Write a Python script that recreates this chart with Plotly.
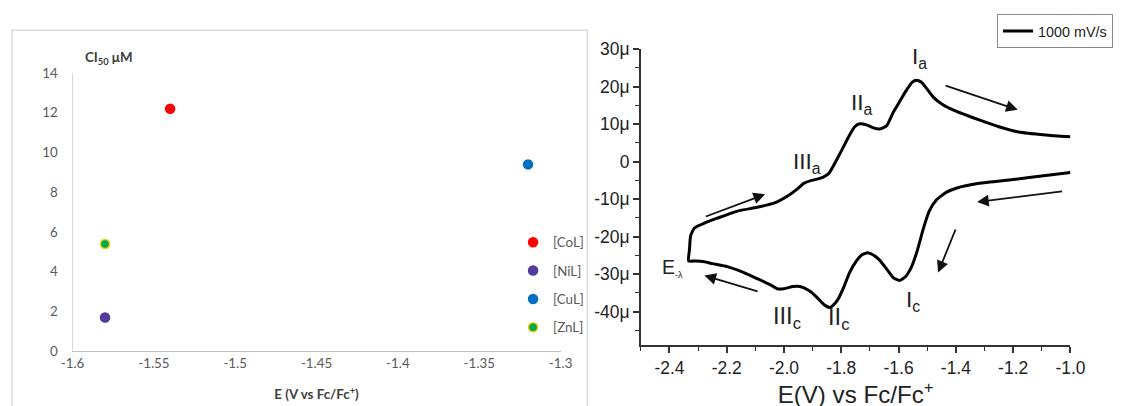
import plotly.graph_objects as go

# The photographed page shows the figure shifted by the 8 px body margin and
# scaled by KX, KY; layout positions below are given in reference-picture pixels.
KX, KY, BODY_M = 1121 / 1137, 406 / 422, 8
W, H = 1129, 414

# ---------------- Left panel data (IC50 vs E) ----------------
complexes = ["[CoL]", "[NiL]", "[CuL]", "[ZnL]"]
e_values = [-1.54, -1.58, -1.32, -1.58]
ic50_values = [12.2, 1.7, 9.4, 5.4]
point_colors = ["#ff0000", "#5a3aa0", "#0070c0", "#00a84f"]
point_lines = ["#ff0000", "#4a3a9a", "#0070c0", "#e8d000"]
left_xticks = [-1.6, -1.55, -1.5, -1.45, -1.4, -1.35, -1.3]
left_xticktext = ["-1.6", "-1.55", "-1.5", "-1.45", "-1.4", "-1.35", "-1.3"]
left_yticks = [0, 2, 4, 6, 8, 10, 12, 14]

# ---------------- Right panel data (cyclic voltammogram) ----------------
cv_potential = [
    -1.000, -1.087, -1.201, -1.319, -1.399, -1.434, -1.469, -1.493, -1.514, -1.535,
    -1.556, -1.576, -1.597, -1.618, -1.642, -1.667, -1.688, -1.708, -1.729, -1.747,
    -1.771, -1.792, -1.812, -1.830, -1.840, -1.861, -1.885, -1.913, -1.944, -1.969,
    -2.000, -2.024, -2.049, -2.094, -2.146, -2.198, -2.250, -2.278, -2.309, -2.333,
    -2.330, -2.326, -2.3125, -2.278, -2.233, -2.163, -2.094, -2.035, -1.990, -1.955,
    -1.931, -1.903, -1.875, -1.844, -1.816, -1.792, -1.771, -1.753, -1.736, -1.712,
    -1.688, -1.667, -1.642, -1.618, -1.597, -1.573, -1.552, -1.538, -1.521, -1.503,
    -1.479, -1.444, -1.410, -1.375, -1.319, -1.250, -1.181, -1.087, -1.000,
]
cv_current = [
    -2.9, -3.7, -4.8, -5.8, -7.1, -8.2, -10.3, -13.2, -18.0, -23.8,
    -28.3, -30.7, -31.7, -31.0, -28.6, -26.2, -24.9, -24.3, -24.9, -26.5,
    -29.6, -33.6, -36.8, -38.4, -38.9, -38.1, -36.2, -34.4, -33.3, -33.3,
    -33.9, -33.9, -32.8, -31.2, -29.4, -28.0, -27.2, -26.7, -26.5, -26.5,
    -23.5, -19.8, -17.7, -16.4, -15.1, -13.2, -12.2, -11.1, -9.3, -7.4,
    -5.8, -5.0, -4.5, -3.2, 0.5, 4.0, 7.1, 9.3, 10.1, 9.8,
    9.0, 8.7, 9.5, 13.2, 15.9, 19.0, 21.2, 21.7, 21.2, 19.6,
    17.2, 15.1, 13.8, 12.7, 11.1, 9.3, 7.9, 7.1, 6.6,
]
cv_name = "1000 mV/s"
right_xticks = [-2.4, -2.2, -2.0, -1.8, -1.6, -1.4, -1.2, -1.0]
right_xticktext = ["-2.4", "-2.2", "-2.0", "-1.8", "-1.6", "-1.4", "-1.2", "-1.0"]
right_yticks = [-40, -30, -20, -10, 0, 10, 20, 30]
right_yticktext = ["-40μ", "-30μ", "-20μ", "-10μ", "0", "10μ", "20μ", "30μ"]

# peak labels: (text, E, I, font size)
peak_labels = [
    ("I<sub>a</sub>", -1.528, 27.5, 22),
    ("II<sub>a</sub>", -1.726, 15.3, 22),
    ("III<sub>a</sub>", -1.920, -0.3, 22),
    ("E<sub><span style='font-size:9px'>-λ</span></sub>", -2.389, -28.4, 19),
    ("III<sub>c</sub>", -1.990, -41.8, 23),
    ("II<sub>c</sub>", -1.809, -42.1, 23),
    ("I<sub>c</sub>", -1.549, -37.3, 22),
]
# scan-direction arrows: (tail E, tail I, head E, head I)
scan_arrows = [
    (-2.278, -14.8, -2.066, -8.7),
    (-2.087, -34.7, -2.278, -30.4),
    (-1.441, 20.4, -1.184, 13.8),
    (-1.024, -7.9, -1.326, -10.8),
    (-1.399, -17.7, -1.462, -29.6),
]

fig = go.Figure()

for name, e, ic, c, lc in zip(complexes, e_values, ic50_values, point_colors, point_lines):
    fig.add_trace(go.Scatter(
        x=[e], y=[ic], mode="markers", name=name,
        marker=dict(size=9, color=c, line=dict(color=lc, width=1.5)),
        xaxis="x", yaxis="y", legend="legend2", legendgroup=name,
    ))

fig.add_trace(go.Scatter(
    x=cv_potential, y=cv_current, mode="lines", name=cv_name,
    line=dict(color="black", width=3, shape="spline", smoothing=0.5),
    xaxis="x2", yaxis="y2", legend="legend",
))


def px(x):
    return (x / KX - BODY_M) / W


def py(y):
    return 1 - (y / KY - BODY_M) / H


SF = 1 / ((KX + KY) / 2)  # font compensation for the picture scaling
left_font = dict(family="Lato, Open Sans, sans-serif", size=13 * SF, color="#595959")
right_font = dict(family="Liberation Sans, Arial, sans-serif", size=17 * SF, color="#222222")

fig.update_layout(
    width=W, height=H, autosize=False,
    margin=dict(l=0, r=0, t=0, b=0),
    paper_bgcolor="white", plot_bgcolor="white",
    xaxis=dict(
        domain=[px(69), px(562)], range=[-1.6, -1.3], anchor="y",
        tickvals=left_xticks, ticktext=left_xticktext,
        showgrid=False, zeroline=False, showline=True, linecolor="#bfbfbf", linewidth=1,
        ticks="", tickfont=left_font,
        title=dict(text="<b>E (V vs Fc/Fc<sup>+</sup>)</b>",
                   font=dict(family="Lato, Open Sans, sans-serif", size=13 * SF, color="#404040"),
                   standoff=19),
    ),
    yaxis=dict(
        domain=[py(351), py(71)], range=[0, 14], anchor="x",
        tickvals=left_yticks, showgrid=False, zeroline=False,
        showline=True, linecolor="#d9d9d9", linewidth=1,
        ticks="", tickfont=left_font, ticklabelstandoff=11,
    ),
    xaxis2=dict(
        domain=[px(643), px(1077)], range=[-2.5, -1.0], anchor="y2",
        tickvals=right_xticks, ticktext=right_xticktext,
        showgrid=False, zeroline=False, showline=True, linecolor="#333333", linewidth=1.5,
        ticks="outside", ticklen=6, tickwidth=1.5, tickcolor="#333333",
        minor=dict(dtick=0.1, ticks="outside", ticklen=4, tickwidth=1.2, tickcolor="#333333"),
        tickfont=right_font,
        title=dict(text="E(V) vs Fc/Fc<sup>+</sup>",
                   font=dict(family="Liberation Sans, Arial, sans-serif", size=23.5 * SF,
                             color="#222222"),
                   standoff=0),
    ),
    yaxis2=dict(
        domain=[py(345), py(47)], range=[-49, 30], anchor="x2",
        tickvals=right_yticks, ticktext=right_yticktext,
        showgrid=False, zeroline=False, showline=True, linecolor="#333333", linewidth=1.5,
        ticks="outside", ticklen=6, tickwidth=1.5, tickcolor="#333333",
        minor=dict(dtick=5, ticks="outside", ticklen=4, tickwidth=1.2, tickcolor="#333333"),
        tickfont=right_font,
    ),
    legend=dict(
        x=px(1120), y=py(12), xanchor="right", yanchor="top",
        bgcolor="white", bordercolor="#888888", borderwidth=1,
        font=dict(family="Liberation Sans, Arial, sans-serif", size=14 * SF, color="#222222"),
        itemwidth=30,
    ),
    legend2=dict(
        x=px(514), y=py(226), xanchor="left", yanchor="top",
        bgcolor="rgba(0,0,0,0)", font=left_font, tracegroupgap=8,
        itemwidth=30,
    ),
    showlegend=True,
)

# Left chart area border (Excel-like)
fig.add_shape(type="rect", xref="paper", yref="paper",
              x0=px(8), x1=px(589), y0=py(430), y1=py(28),
              line=dict(color="#d9d9d9", width=1.5), fillcolor="rgba(0,0,0,0)", layer="below")

# Left y-axis title
fig.add_annotation(
    xref="paper", yref="paper", x=px(80), y=py(56), xanchor="left", yanchor="middle",
    text="<b>CI<sub>50</sub> μM</b>", showarrow=False,
    font=dict(family="Lato, Open Sans, sans-serif", size=13 * SF, color="#404040"),
)

for txt, e, i, fs in peak_labels:
    fig.add_annotation(
        x=e, y=i, xref="x2", yref="y2", text=txt, showarrow=False,
        font=dict(family="Liberation Sans, Arial, sans-serif", size=fs * SF, color="#222222"),
    )

for te, ti, he, hi in scan_arrows:
    fig.add_annotation(
        x=he, y=hi, ax=te, ay=ti, xref="x2", yref="y2", axref="x2", ayref="y2",
        text="", showarrow=True, arrowhead=2, arrowsize=1.3, arrowwidth=1.8,
        arrowcolor="#111111",
    )

fig.write_html("out.html")
